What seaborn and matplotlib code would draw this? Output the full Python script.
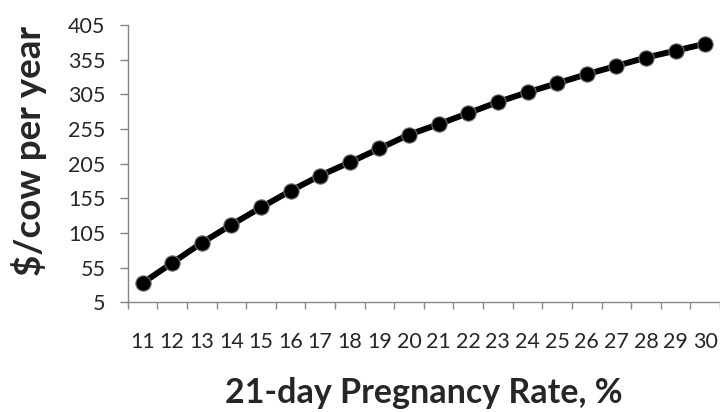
import matplotlib
matplotlib.use("Agg")
import matplotlib.pyplot as plt
import pandas as pd
import seaborn as sns

# 21-day pregnancy rate (%) and value ($/cow per year)
rate = [11, 12, 13, 14, 15, 16, 17, 18, 19, 20,
        21, 22, 23, 24, 25, 26, 27, 28, 29, 30]
value = [33, 62, 91, 117, 142, 166, 188, 207, 227, 247,
         262, 278, 294, 308, 321, 334, 346, 358, 368, 378]
y_ticks = [5, 55, 105, 155, 205, 255, 305, 355, 405]

sns.set_style("white")
plt.rcParams["font.family"] = ["Lato", "DejaVu Sans"]

AXIS_GRAY = "#868686"

df = pd.DataFrame({"rate": rate, "value": value})

fig = plt.figure(figsize=(7.2, 4.12), dpi=100)
ax = fig.add_axes([0.1774, 0.2658, 0.8226, 0.6735])

sns.lineplot(
    data=df,
    x="rate",
    y="value",
    ax=ax,
    color="black",
    linewidth=4.3,
    marker="o",
    markersize=11,
    markerfacecolor="black",
    markeredgecolor="#707070",
    markeredgewidth=0.8,
)

ax.set_xlim(rate[0] - 0.5, rate[-1] + 0.5)
ax.set_ylim(y_ticks[0], y_ticks[-1])

# category style axis: labels at the points, ticks between them
ax.set_xticks(rate)
ax.set_xticklabels([str(r) for r in rate])
ax.set_xticks([r - 0.5 for r in rate] + [rate[-1] + 0.5], minor=True)
ax.set_yticks(y_ticks)

ax.tick_params(axis="x", which="major", length=0, pad=21, labelsize=15.5)
ax.tick_params(axis="x", which="minor", length=5, width=1, color=AXIS_GRAY,
               direction="out", bottom=True)
ax.tick_params(axis="y", which="major", length=6, width=1, color=AXIS_GRAY,
               direction="out", pad=10, labelsize=15.5, left=True)

sns.despine(ax=ax)
for side in ("left", "bottom"):
    ax.spines[side].set_color(AXIS_GRAY)
    ax.spines[side].set_linewidth(1)

ax.set_xlabel("21-day Pregnancy Rate, %", fontsize=24.5, fontweight="bold")
ax.set_ylabel("$/cow per year", fontsize=26.5, fontweight="bold")
ax.xaxis.set_label_coords(0.5005, -0.268)
ax.yaxis.set_label_coords(-0.136, 0.546)

ax.grid(False)

fig.savefig("out.png", dpi=100)
